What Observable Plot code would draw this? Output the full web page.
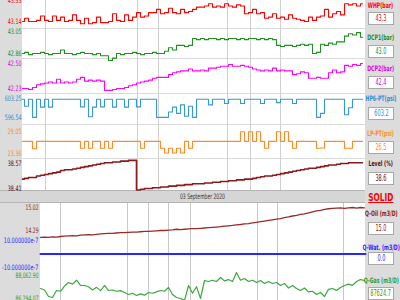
<!DOCTYPE html>
<html><head><meta charset="utf-8">
<script src="https://cdn.jsdelivr.net/npm/d3@7"></script>
<script src="https://cdn.jsdelivr.net/npm/@observablehq/plot@0.6"></script>
<style>
html,body{margin:0;padding:0;background:#dcdcdc;}
#root{position:relative;width:400px;height:300px;overflow:hidden;background:#dcdcdc;font-family:"DejaVu Sans",sans-serif;}
</style></head><body><div id="root"></div>
<script>
// ---- top section series (one sample per step) ----
const whp = [43.14,43.17,43.14,43.14,
 43.15,43.19,43.15,43.14,43.19,43.15,43.18,43.14,43.15,43.20,43.15,
 43.12,43.17,43.12,43.13,43.18,
 43.13,43.13,
 43.14,43.21,43.15,43.14,43.20,43.15,
 43.18,43.22,43.18,43.19,
 43.22,43.22,43.25,
 43.21,43.22,43.26,43.22,43.21,43.25,43.22,43.23,
 43.25,43.27,
 43.27,43.28,43.30,43.27,43.28,43.27,43.30,43.28,43.27,43.29,43.28,
 43.21,43.22,43.25,43.21,43.22,
 43.17,43.18,43.21,43.17,43.18,43.16,43.20,43.17,43.16,
 43.15,43.14,43.18,43.15,
 43.18,43.19,43.25,43.18,
 43.21,43.23,43.20,
 43.30,43.29,43.30,43.28,43.30];
const dcp1 = [42.86,42.87,42.85,42.86,42.86,42.87,42.86,42.85,42.86,42.86,42.89,42.86,42.86,42.85,42.86,42.87,42.86,42.86,42.85,42.86,
 42.84,42.84,
 42.80,42.82,
 42.86,42.85,42.86,42.86,42.87,42.86,42.85,42.86,42.86,42.87,42.86,42.86,
 42.88,42.91,42.89,42.93,
 42.93,42.92,42.93,
 42.99,42.98,42.99,42.98,42.99,42.99,42.98,42.99,42.98,42.99,42.99,42.98,42.99,42.98,42.99,42.99,42.98,42.99,42.98,42.99,42.98,
 42.93,42.92,42.93,42.93,42.92,42.93,
 42.94,42.93,42.94,
 42.86,42.87,
 42.94,42.93,42.95,42.94,42.96,42.96,
 43.01,43.03,43.02,43.04,43.00];
const dcp2 = [42.23,42.23,42.22,42.24,
 42.27,42.28,
 42.29,42.30,42.29,42.33,42.29,42.30,42.29,42.30,42.33,
 42.35,42.31,
 42.32,42.31,42.32,42.31,
 42.21,42.21,42.22,
 42.23,42.23,42.24,
 42.26,42.27,42.29,
 42.30,42.31,42.32,42.34,42.35,
 42.35,42.35,
 42.38,42.40,42.41,
 42.42,42.42,42.44,42.42,42.42,42.43,42.42,
 42.45,42.45,42.46,
 42.47,42.47,42.49,42.47,42.47,42.48,42.47,42.46,
 42.44,42.43,
 42.42,42.43,42.42,42.45,42.42,42.43,42.42,42.42,
 42.38,42.39,
 42.41,42.40,
 42.34,42.34,42.35,42.34,42.34,
 42.40,42.43,42.40,42.41,
 42.48,42.47,42.49,42.48,42.50];
const hp6 = [603.0,600.5,603.0,596.6,603.0,600.2,603.0,600.2,603.0,603.0,
 603.0,603.0,603.0,603.0,603.0,600.3,603.0,596.8,600.2,603.0,
 600.3,603.0,603.0,600.2,603.0,603.0,600.2,603.0,603.0,600.3,
 603.0,603.0,603.0,603.0,596.6,596.6,596.6,598.5,600.2,598.0,
 601.0,597.0,600.5,596.6,603.0,603.0,603.0,601.0,603.0,603.0,
 603.0,601.5,603.0,603.0,603.0,601.5,603.0,603.0,603.0,603.0,
 601.5,603.0,603.0,603.0,601.8,603.0,603.0,603.0,601.5,603.0,
 603.0,603.0,603.0,603.0,596.6,598.0,603.0,603.0,603.0,603.0,
 603.0,597.5,600.0,603.0,603.0,603.0];
const lpPt = [26.5,26.5,26.5,24.6,26.5,26.5,26.5,26.5,26.5,26.5,
 26.5,26.5,26.5,26.5,26.5,24.7,26.5,24.7,26.5,26.5,
 24.7,26.5,24.7,26.5,26.5,26.5,26.5,26.5,26.5,26.5,
 24.7,26.5,26.5,26.5,26.5,24.7,23.5,24.7,23.5,24.7,
 23.5,26.5,24.7,26.5,26.5,26.5,26.5,26.5,26.5,26.5,
 26.5,26.5,26.5,26.5,26.5,29.0,26.5,29.0,26.5,29.0,
 26.5,24.7,26.5,26.5,29.0,26.5,29.0,26.5,24.7,26.5,
 26.5,26.5,26.5,26.5,24.7,24.8,26.5,26.5,26.5,26.5,
 26.5,24.7,24.7,26.5,26.5,26.5];
const level = [38.47,38.475,38.48,38.48,38.49,38.495,38.50,38.505,38.51,38.515,
 38.525,38.53,38.53,38.535,38.54,38.545,38.55,38.555,38.56,38.565,
 38.57,38.575,38.575,38.58,38.58,38.585,38.585,38.59,38.59,
 38.40,
 38.405,38.41,38.41,38.415,38.415,38.42,38.42,38.425,38.425,38.43,
 38.43,38.435,38.435,38.44,38.44,38.44,38.445,38.445,38.45,38.45,
 38.455,38.455,38.46,38.46,38.465,38.465,38.47,38.47,38.475,38.48,
 38.485,38.49,38.49,38.495,38.50,38.505,38.51,38.515,38.52,38.525,
 38.53,38.535,38.54,38.54,38.545,38.55,38.555,38.56,38.56,38.565,
 38.57,38.57,38.575,38.575,38.575,38.575];

// ---- bottom section series ----
const qOil = [14.07,14.08,14.07,14.09,14.08,14.10,
 14.11,14.12,14.13,14.12,14.14,14.15,14.16,14.15,14.17,14.18,
 14.19,14.20,14.20,14.21,14.22,14.22,14.23,14.24,14.24,14.25,14.26,14.26,
 14.27,14.28,14.29,14.29,14.30,14.31,14.33,14.32,14.33,14.34,14.35,14.35,14.36,
 14.37,14.38,14.39,14.40,14.41,14.43,14.44,14.45,14.47,14.48,14.50,14.51,
 14.53,14.55,14.57,14.59,14.61,14.63,14.65,14.67,14.70,14.72,14.75,14.77,
 14.80,14.82,14.85,14.88,14.91,14.93,14.96,14.98,14.99,15.00,15.01,
 14.99,15.01,15.02,15.00,15.02,15.01];
const qWatT = [0, 81.25];
const qWatV = [0, 0];
const qGas = [87063,86950,86450,86371,86909,86850,87250,87524,87400,87700,
 87300,87294,87200,86950,87150,86900,87294,86909,86950,86850,
 86900,86756,86600,86700,86525,86650,86550,86756,86700,86800,
 86909,86850,87140,86600,86371,86294,86140,87294,86700,87200,
 86300,87678,87600,87700,87600,87909,87650,87750,87600,88293,
 87700,87832,87600,87700,87524,87678,87450,87600,87448,87524,
 87300,87450,87100,87294,87063,86909,87100,86800,86850,86600,
 86756,86450,87000,87063,86909,87140,87294,87400,87300,87600,
 87750,87678];

// axis extremes (left labels)
const topMin = [43.14, 42.86, 42.23, 596.54, 23.36, 38.41];
const topMax = [43.33, 43.05, 42.50, 603.25, 29.05, 38.57];
const botMin = [14.29, -10e-7, 86294.07];
const botMax = [15.02, 10e-7, 88062.90];

// grid (time positions, in sample steps)
const topGrid = [5.75, 28.75, 34, 51.25, 57, 64.5];
const botGrid = [5, 21.75, 27, 32, 37.5, 54.25, 59.25, 75.75];

// right panel
const names = ["WHP(bar)","DCP1(bar)","DCP2(bar)","HP6-PT(psi)","LP-PT(psi)","Level (%)","Q-Oil (m3/D)","Q-Wat. (m3/D)","Q-Gas (m3/D)"];
const current = ["43.3","43.0","42.4","603.2","26.5","38.6","15.0","0.0","87624.7"];
const dateLabel = "03 September 2020";
const sectionTag = "SOLID";

// ---- styling / layout ----
const colors = ["#ff0000","#1f8f1f","#ff00ff","#3797d8","#ff8a26","#8b1a1a","#9b2a2a","#2626ff","#3aa83a"];
const textColors = ["#ff0000","#1f8f1f","#e000e0","#2f8fd0","#ff8a26","#5a0f0f","#8b1a1a","#2626ff","#2f9a2f"];
const topLayout = [
 {top:0, h:28, yMax:0, yMin:21},
 {top:28, h:30, yMax:31, yMin:53},
 {top:58, h:35, yMax:63, yMin:88},
 {top:93, h:31, yMax:98, yMin:117},
 {top:124, h:34, yMax:131, yMin:153},
 {top:158, h:32, yMax:163, yMin:188}
];
const botLayout = [
 {top:203, h:34, yMax:207, yMin:230},
 {top:237, h:33, yMax:240, yMin:267},
 {top:270, h:30, yMax:275, yMin:298}
];
const labelY = [5, 37, 68, 98, 133, 163, 213, 247, 280];
const boxY = [18, 51, 82, 113, 147, 178, 228, 258, 293];
const FONT = '"DejaVu Sans",sans-serif';

const root = document.getElementById("root");
function box(left, top, w, h, css) {
  const d = document.createElement("div");
  Object.assign(d.style, {position:"absolute", left:left+"px", top:top+"px", width:w+"px", height:h+"px", boxSizing:"border-box"}, css || {});
  root.appendChild(d); return d;
}
function squeezeHtml(d, text, f) {
  const sp = document.createElement("span");
  sp.textContent = text;
  sp.style.display = "inline-block";
  sp.style.transform = "scaleX(" + f + ")";
  sp.style.transformOrigin = "center";
  sp.style.whiteSpace = "nowrap";
  d.style.display = "flex"; d.style.justifyContent = "center"; d.style.alignItems = "center";
  d.appendChild(sp);
  return sp;
}
function put(svg, left, top, f) {
  svg.style.position = "absolute"; svg.style.left = left+"px"; svg.style.top = top+"px";
  root.appendChild(svg);
  if (f) svg.querySelectorAll("text").forEach(t => {
    const L = t.getComputedTextLength();
    t.setAttribute("textLength", (L*f).toFixed(2));
    t.setAttribute("lengthAdjust", "spacingAndGlyphs");
  });
}

// backgrounds
box(22, 0, 343, 190, {background:"#fff"});
box(0, 190, 365, 13, {background:"#d6d6d6", borderTop:"1px solid #b4b4b4", borderBottom:"1px solid #b4b4b4"});
box(40, 203, 325, 97, {background:"#fff"});
[28, 58, 93, 124, 158].forEach(y => box(22, y, 343, 1, {background:"#dadada"}));

// grids
put(Plot.plot({width:365, height:190, marginLeft:22, marginRight:0, marginTop:0, marginBottom:0,
  x:{domain:[0,85.75], axis:null}, y:{axis:null},
  style:{background:"transparent", overflow:"visible"},
  marks:[Plot.ruleX(topGrid, {x:d=>d, stroke:"#cfcfcf", strokeWidth:1})]}), 0, 0);
put(Plot.plot({width:365, height:97, marginLeft:40, marginRight:0, marginTop:0, marginBottom:0,
  x:{domain:[0,81.25], axis:null}, y:{axis:null},
  style:{background:"transparent", overflow:"visible"},
  marks:[Plot.ruleX(botGrid, {x:d=>d, stroke:"#c8c8c8", strokeWidth:1})]}), 0, 203);

const fmt2 = d3.format(".2f");
const topSeries = [whp, dcp1, dcp2, hp6, lpPt, level];
topSeries.forEach((vals, k) => {
  const L = topLayout[k];
  const svg = Plot.plot({
    width:365, height:L.h, marginLeft:22, marginRight:0,
    marginTop:L.yMax - L.top, marginBottom:L.top + L.h - L.yMin,
    x:{domain:[0,85.75], axis:null},
    y:{domain:[topMin[k], topMax[k]], axis:"left", ticks:[topMin[k], topMax[k]], tickSize:0, tickPadding:1, tickFormat:fmt2, label:null},
    style:{background:"transparent", overflow:"visible", color:textColors[k], fontSize:"7.5px", fontFamily:FONT},
    marks:[Plot.line(vals, {x:(d,i)=>i, y:d=>d, stroke:colors[k], strokeWidth:k===5?1.6:1.1, curve:"step"})]
  });
  put(svg, 0, L.top, 0.64);
});

const fmtWat = v => (v*1e7).toFixed(6) + "e-7";
const botFmt = [fmt2, fmtWat, d3.format(",.2f")];
const botMarks = [
  Plot.line(qOil, {x:(d,i)=>i, y:d=>d, stroke:colors[6], strokeWidth:1.3}),
  Plot.line(qWatV, {x:(d,i)=>qWatT[i], y:d=>d, stroke:colors[7], strokeWidth:2}),
  Plot.line(qGas, {x:(d,i)=>i, y:d=>d, stroke:colors[8], strokeWidth:1.2})
];
botLayout.forEach((L, k) => {
  const svg = Plot.plot({
    width:365, height:L.h, marginLeft:40, marginRight:0,
    marginTop:L.yMax - L.top, marginBottom:L.top + L.h - L.yMin,
    x:{domain:[0,81.25], axis:null},
    y:{domain:[botMin[k], botMax[k]], axis:"left", ticks:[botMin[k], botMax[k]], tickSize:0, tickPadding:2, tickFormat:botFmt[k], label:null},
    style:{background:"transparent", overflow:"visible", color:textColors[6+k], fontSize:"7.5px", fontFamily:FONT},
    marks:[botMarks[k]]
  });
  put(svg, 0, L.top, k === 1 ? 0.66 : 0.6);
});

// date label
squeezeHtml(box(40, 190, 325, 13, {font:"7.5px "+FONT, color:"#333"}), dateLabel, 0.6);

// right panel
names.forEach((n, k) => {
  squeezeHtml(box(362, labelY[k]-5, 38, 10, {font:"bold 7.5px "+FONT, color:textColors[k]}), n, 0.62);
  squeezeHtml(box(368, boxY[k]-6.5, 26, 13, {background:"#fff", border:"1px solid #a8a8a8", font:"8px "+FONT, color:textColors[k]}), current[k], 0.62);
});
const sp = squeezeHtml(box(362, 191, 38, 12, {font:"bold 11px "+FONT, color:"#ff0000"}), sectionTag, 0.67);
sp.style.textDecoration = "underline";
</script></body></html>
